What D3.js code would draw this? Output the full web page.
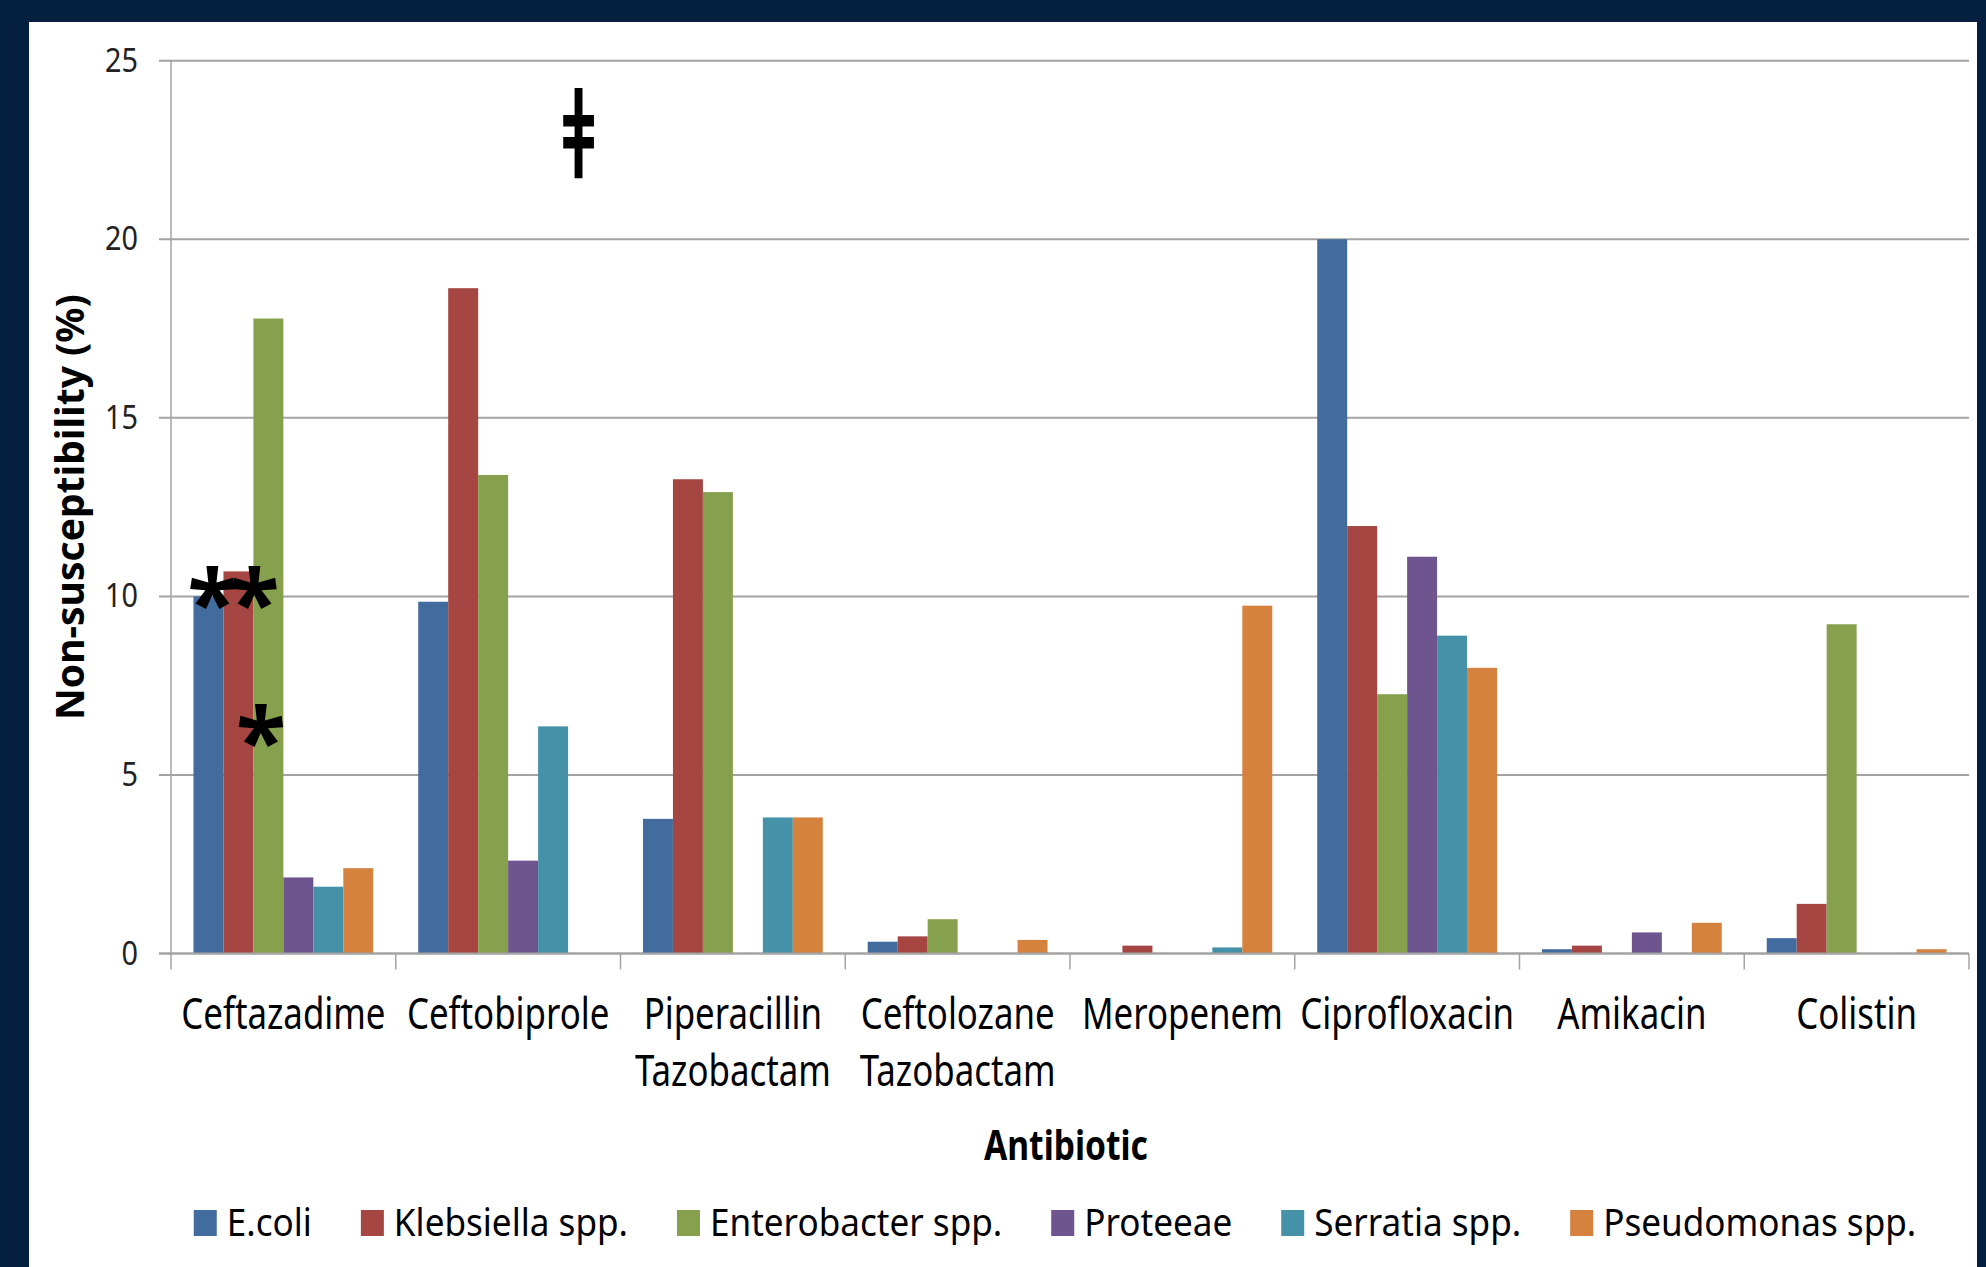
<!DOCTYPE html>
<head>
<meta charset="UTF-8">
<script src="https://d3js.org/d3.v7.min.js"></script>
<style>
  body { margin: 0; background: #05203f; }
  text { font-family: "Noto Sans", sans-serif; fill: #000; }
</style>
</head>
<body>
<div id="my_dataviz"></div>
<script>

// ---- data ----
var antibiotics = ["Ceftazadime", "Ceftobiprole", "Piperacillin Tazobactam", "Ceftolozane Tazobactam",
                   "Meropenem", "Ciprofloxacin", "Amikacin", "Colistin"];
var organisms = ["E.coli", "Klebsiella spp.", "Enterobacter spp.", "Proteeae", "Serratia spp.", "Pseudomonas spp."];

var ecoli        = [10.0, 9.85, 3.77, 0.33, 0,    20.0, 0.12, 0.43];
var klebsiella   = [10.7, 18.63, 13.28, 0.48, 0.22, 11.97, 0.22, 1.39];
var enterobacter = [17.78, 13.4, 12.92, 0.96, 0,   7.26, 0,    9.22];
var proteeae     = [2.13, 2.6,  0,    0,    0,    11.11, 0.59, 0];
var serratia     = [1.87, 6.36, 3.81, 0,    0.17, 8.9,  0,    0];
var pseudomonas  = [2.39, 0,    3.81, 0.38, 9.74, 8.0,  0.86, 0.12];

var yTicks = [0, 5, 10, 15, 20, 25];

// significance marks drawn over the bars
var notes = [
  {label: "**", antibiotic: "Ceftazadime",  organism: "Klebsiella spp.",   at: 10.27},
  {label: "*",  antibiotic: "Ceftazadime",  organism: "Enterobacter spp.", at: 6.43},
  {label: "ǂ",  antibiotic: "Ceftobiprole", organism: "Pseudomonas spp.",  at: 22.87}
];

var colors = ["#436c9e", "#a64643", "#86a04e", "#6e5590", "#4591a8", "#d5823f"];
var series = [ecoli, klebsiella, enterobacter, proteeae, serratia, pseudomonas];

// ---- layout ----
var W = 1986, H = 1267;
var margin = {top: 60.7, right: 17, bottom: 313.5, left: 171};
var width = W - margin.left - margin.right,
    height = H - margin.top - margin.bottom;

var svg = d3.select("#my_dataviz")
  .append("svg")
    .attr("width", W)
    .attr("height", H);

// white panel
svg.append("rect")
  .attr("x", 29).attr("y", 22)
  .attr("width", 1948).attr("height", H - 22)
  .attr("fill", "#ffffff");

var g = svg.append("g")
  .attr("transform", "translate(" + margin.left + "," + margin.top + ")");

var x0 = d3.scaleBand()
  .domain(antibiotics)
  .range([0, width])
  .paddingInner(0.2)
  .paddingOuter(0.1);

var x1 = d3.scaleBand()
  .domain(organisms)
  .range([0, x0.bandwidth()]);

var y = d3.scaleLinear()
  .domain([0, 25])
  .range([height, 0]);

var color = d3.scaleOrdinal().domain(organisms).range(colors);

// gridlines + y ticks
g.append("g")
  .selectAll("line")
  .data(yTicks)
  .join("line")
    .attr("x1", -12)
    .attr("x2", width)
    .attr("y1", function(d) { return y(d); })
    .attr("y2", function(d) { return y(d); })
    .attr("stroke", "#a3a3a3")
    .attr("stroke-width", 2);

// y axis line
g.append("line")
  .attr("x1", 0).attr("x2", 0)
  .attr("y1", y(25)).attr("y2", y(0))
  .attr("stroke", "#a3a3a3")
  .attr("stroke-width", 1.5);

// y tick labels (text squeezed horizontally like the source)
g.append("g")
  .selectAll("text")
  .data(yTicks)
  .join("text")
    .attr("transform", function(d) { return "translate(-33," + (y(d) + 11) + ") scale(0.9,1)"; })
    .attr("text-anchor", "end")
    .style("font-size", "32px")
    .style("fill", "#222")
    .text(function(d) { return d; });

// bars
var rows = antibiotics.map(function(a, i) {
  return {antibiotic: a, values: organisms.map(function(o, j) { return {organism: o, value: series[j][i]}; })};
});

g.append("g")
  .selectAll("g")
  .data(rows)
  .join("g")
    .attr("transform", function(d) { return "translate(" + x0(d.antibiotic) + ",0)"; })
  .selectAll("rect")
  .data(function(d) { return d.values; })
  .join("rect")
    .attr("x", function(d) { return x1(d.organism); })
    .attr("y", function(d) { return y(d.value); })
    .attr("width", x1.bandwidth())
    .attr("height", function(d) { return y(0) - y(d.value); })
    .attr("fill", function(d) { return color(d.organism); });

// x axis line and category boundary ticks
var step = x0.step();
g.append("line")
  .attr("x1", -12).attr("x2", width)
  .attr("y1", y(0)).attr("y2", y(0))
  .attr("stroke", "#a3a3a3")
  .attr("stroke-width", 2);

g.append("g")
  .selectAll("line")
  .data(d3.range(antibiotics.length + 1))
  .join("line")
    .attr("x1", function(i) { return i * step; })
    .attr("x2", function(i) { return i * step; })
    .attr("y1", y(0))
    .attr("y2", y(0) + 16)
    .attr("stroke", "#a3a3a3")
    .attr("stroke-width", 1.5);

// category labels (may wrap to two lines)
var catLabels = g.append("g")
  .selectAll("text")
  .data(antibiotics)
  .join("text")
    .attr("transform", function(d) { return "translate(" + (x0(d) + x0.bandwidth() / 2) + "," + (y(0) + 75) + ") scale(0.81,1)"; })
    .attr("text-anchor", "middle")
    .style("font-size", "43px");

catLabels.selectAll("tspan")
  .data(function(d) { return d.split(" "); })
  .join("tspan")
    .attr("x", 0)
    .attr("dy", function(d, i) { return i === 0 ? 0 : 57.7; })
    .text(function(d) { return d; });

// x axis title
g.append("text")
  .attr("transform", "translate(" + (width / 2 - 4) + "," + (y(0) + 206) + ") scale(0.8,1)")
  .attr("text-anchor", "middle")
  .style("font-size", "42px")
  .style("font-weight", "bold")
  .text("Antibiotic");

// y axis title
g.append("text")
  .attr("transform", "translate(-87," + (height / 2) + ") rotate(-90)")
  .attr("text-anchor", "middle")
  .style("font-size", "39px")
  .style("font-weight", "bold")
  .text("Non-susceptibility (%)");

// significance marks
g.append("g")
  .selectAll("text")
  .data(notes)
  .join("text")
    .attr("transform", function(d) {
      var f = d.label === "ǂ" ? 0.35 : (d.label === "**" ? 0.2 : 0.25);
      var px = x0(d.antibiotic) + x1(d.organism) + x1.bandwidth() * f;
      var s = d.label === "ǂ" ? " scale(0.74,1.18)" : "";
      return "translate(" + px + "," + y(d.at) + ")" + s;
    })
    .attr("dy", function(d) { return d.label === "ǂ" ? "0.35em" : "0.54em"; })
    .attr("text-anchor", "middle")
    .style("letter-spacing", function(d) { return d.label === "**" ? "-8px" : "0px"; })
    .style("font-size", function(d) { return d.label === "ǂ" ? "100px" : "92px"; })
    .style("font-weight", "bold")
    .text(function(d) { return d.label; });

// legend
var legend = svg.append("g").attr("transform", "translate(0,1236)");
var items = legend.selectAll("g")
  .data(organisms)
  .join("g");

items.append("rect")
  .attr("y", -26)
  .attr("width", 23)
  .attr("height", 26)
  .attr("fill", function(d) { return color(d); });

var legendScale = 0.9;
var legendText = items.append("text")
  .attr("transform", "translate(33,0) scale(" + legendScale + ",1)")
  .style("font-size", "39px")
  .text(function(d) { return d; });

// lay the legend out from the measured text widths, centred
var widths = [];
legendText.each(function() { widths.push(33 + this.getComputedTextLength() * legendScale); });
var gap = 49;
var total = d3.sum(widths) + gap * (widths.length - 1);
var start = 1055 - total / 2;
var offsets = [];
widths.reduce(function(acc, w) { offsets.push(acc); return acc + w + gap; }, start);
items.attr("transform", function(d, i) { return "translate(" + offsets[i] + ",0)"; });

</script>
</body>
